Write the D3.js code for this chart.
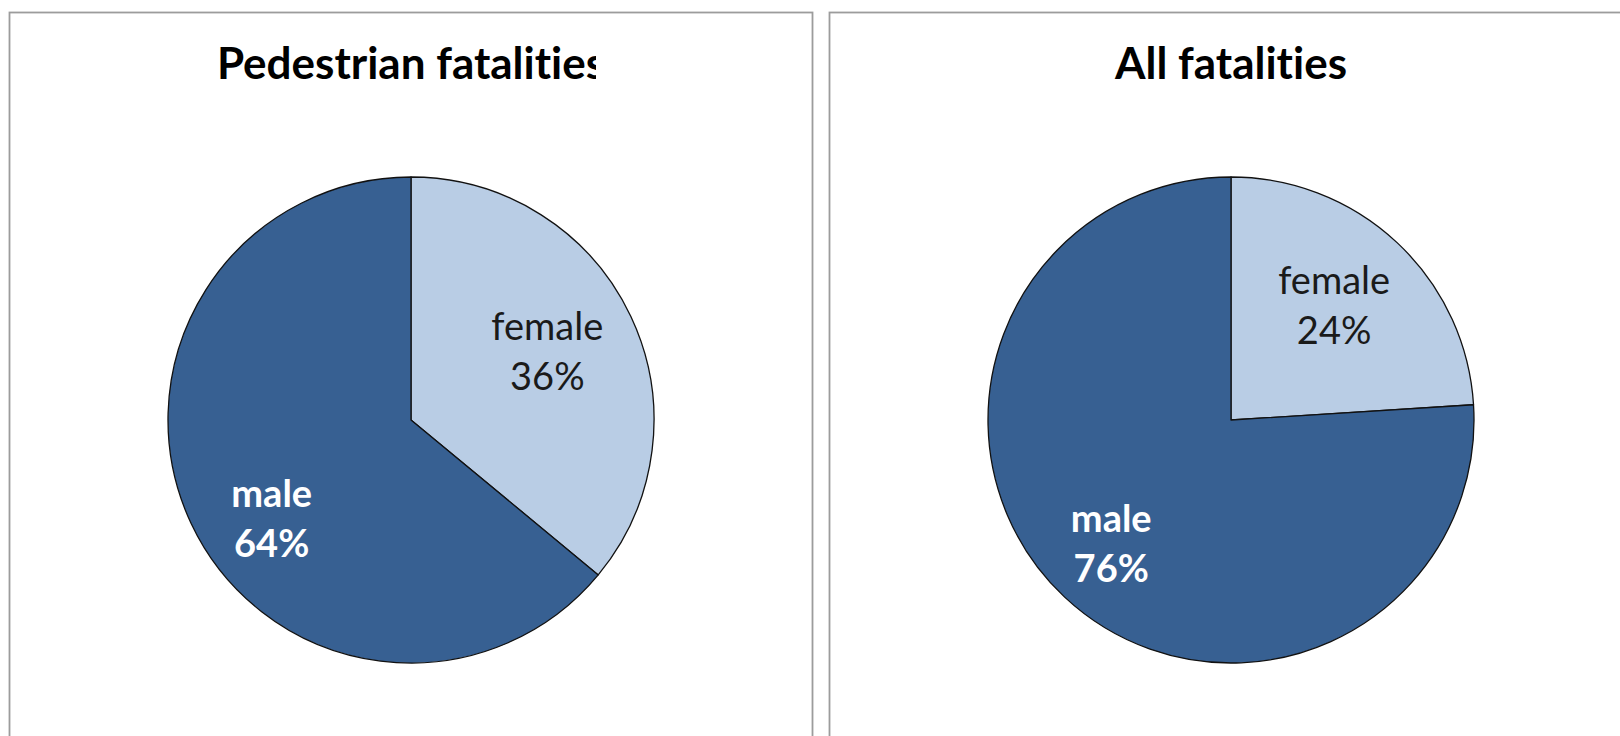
<!DOCTYPE html>
<html>
<head>
<meta charset="utf-8">
<script src="https://cdn.jsdelivr.net/npm/d3@7"></script>
<style>
  html, body { margin: 0; padding: 0; background: #ffffff; }
  svg { display: block; }
  text { font-family: Lato, "Open Sans", "DejaVu Sans", sans-serif; font-variant-ligatures: none; }
</style>
</head>
<body>
<svg id="chart" width="1620" height="736"></svg>
<script>
// Share of fatalities by sex, two groups
const sexes = ["female", "male"];
const pedestrianShares = [36, 64];
const allShares = [24, 76];
const titles = ["Pedestrian fatalities", "All fatalities"];

const groups = [
  { title: titles[0], values: pedestrianShares },
  { title: titles[1], values: allShares }
];

// Layout
const W = 1620, H = 736;
const panelBoxes = [
  { x0: 9.5, x1: 812.5 },
  { x0: 829.5, x1: 1640 }
];
const panelTop = 12.5;
const pieCenters = [411, 1231];
const pieCy = 420;
const radius = 243;
const titleBaseline = 79;
const titleClipRight = [596, null];

const fillColor = d3.scaleOrdinal().domain(sexes).range(["#b9cde5", "#376092"]);
const textColor = d3.scaleOrdinal().domain(sexes).range(["#1a1a1a", "#ffffff"]);
const textWeight = d3.scaleOrdinal().domain(sexes).range([400, 700]);
const labelRadius = d3.scaleOrdinal().domain(sexes).range([0.62, 0.72]);
// small hand adjustments of label placement, per group and slice
const labelNudge = [[[0, 0], [19, 29]], [[0, 0], [0, 0]]];

const svg = d3.select("#chart");

const pie = d3.pie().sort(null).value(d => d.value);
const arc = d3.arc().innerRadius(0).outerRadius(radius);

const defs = svg.append("defs");

groups.forEach((g, gi) => {
  const box = panelBoxes[gi];
  const cx = pieCenters[gi];

  // panel frame
  svg.append("rect")
    .attr("x", box.x0).attr("y", panelTop)
    .attr("width", box.x1 - box.x0).attr("height", H + 20 - panelTop)
    .attr("fill", "#ffffff")
    .attr("stroke", "#9c9c9c")
    .attr("stroke-width", 1.8);

  // title
  const title = svg.append("text")
    .attr("x", cx).attr("y", titleBaseline)
    .attr("text-anchor", "middle")
    .attr("font-size", 44)
    .attr("font-weight", 700)
    .attr("fill", "#000000")
    .text(g.title);
  if (titleClipRight[gi] != null) {
    const id = "titleClip" + gi;
    defs.append("clipPath").attr("id", id)
      .append("rect")
      .attr("x", box.x0).attr("y", 0)
      .attr("width", titleClipRight[gi] - box.x0).attr("height", 120);
    title.attr("clip-path", `url(#${id})`);
  }

  const data = sexes.map((s, i) => ({ sex: s, value: g.values[i] }));
  const slices = pie(data);

  const pg = svg.append("g").attr("transform", `translate(${cx},${pieCy})`);

  pg.selectAll("path")
    .data(slices)
    .join("path")
    .attr("d", arc)
    .attr("fill", d => fillColor(d.data.sex))
    .attr("stroke", "#111111")
    .attr("stroke-width", 1.3)
    .attr("stroke-linejoin", "round");

  const labels = pg.selectAll("text.slice-label")
    .data(slices)
    .join("text")
    .attr("class", "slice-label")
    .attr("text-anchor", "middle")
    .attr("font-size", 38)
    .attr("font-weight", d => textWeight(d.data.sex))
    .attr("fill", d => textColor(d.data.sex))
    .attr("transform", (d, i) => {
      const k = labelRadius(d.data.sex) * radius;
      const c = d3.arc().innerRadius(k).outerRadius(k).centroid(d);
      const n = labelNudge[gi][i];
      return `translate(${c[0] + n[0]},${c[1] + n[1]})`;
    });

  labels.append("tspan").attr("x", 0).attr("y", -16).text(d => d.data.sex);
  labels.append("tspan").attr("x", 0).attr("y", 34).text(d => d.data.value + "%");
});
</script>
</body>
</html>
